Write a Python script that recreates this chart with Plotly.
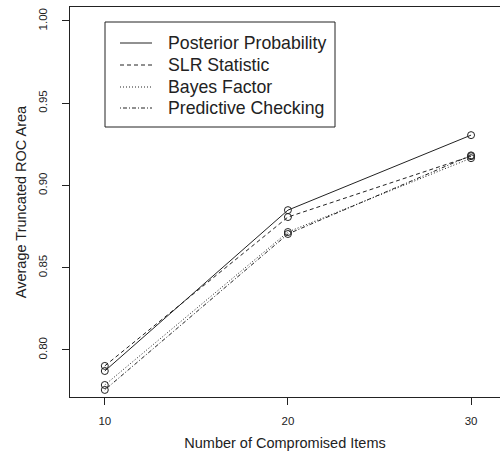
import plotly.graph_objects as go

compromised = [10, 20, 30]
posterior = [0.7872, 0.8850, 0.9306]
slr = [0.7903, 0.8808, 0.9178]
bayes = [0.7787, 0.8717, 0.9166]
predictive = [0.7757, 0.8705, 0.9183]

names = ["Posterior Probability", "SLR Statistic", "Bayes Factor", "Predictive Checking"]
series = [posterior, slr, bayes, predictive]
dashes = ["solid", "4px,3px", "1px,2px", "1px,2px,4px,2px"]

ink = "#222222"
font = "Liberation Sans, Arial, sans-serif"

# plot-area geometry in pixels (for placing the hand-drawn legend box)
L, R, T, B = 70, 500, 7, 397
def px(x):
    return (x - L) / (R - L)
def py(y):
    return (B - y) / (B - T)

fig = go.Figure()
for name, vals, d in zip(names, series, dashes):
    fig.add_trace(go.Scatter(
        x=compromised, y=vals, mode="lines+markers", name=name, showlegend=False,
        line=dict(color=ink, width=1, dash=d),
        marker=dict(symbol="circle-open", size=7, color=ink, line=dict(width=1, color=ink)),
    ))

# legend (R-style box)
shapes = [dict(type="rect", xref="paper", yref="paper",
               x0=px(105), x1=px(335), y0=py(127), y1=py(22),
               line=dict(color=ink, width=1), fillcolor="white", layer="above")]
annotations = []
row_y = [43, 65, 87, 108]
for name, d, ry in zip(names, dashes, row_y):
    shapes.append(dict(type="line", xref="paper", yref="paper",
                       x0=px(120), x1=px(152), y0=py(ry), y1=py(ry),
                       line=dict(color=ink, width=1, dash=d), layer="above"))
    annotations.append(dict(text=name, xref="paper", yref="paper",
                            x=px(166), y=py(ry), xanchor="left", yanchor="middle",
                            showarrow=False, font=dict(size=17.7, family=font, color=ink)))

fig.update_layout(
    width=500, height=451,
    margin=dict(l=L, r=500 - R, t=T, b=451 - B),
    paper_bgcolor="white", plot_bgcolor="white",
    font=dict(family=font, color=ink),
    showlegend=False,
    shapes=shapes, annotations=annotations,
    xaxis=dict(
        range=[8.10, 31.58], tickvals=[10, 20, 30], ticktext=["10", "20", "30"],
        showgrid=False, zeroline=False, showline=True, mirror=True,
        linecolor=ink, linewidth=1, ticks="outside", ticklen=7, tickcolor=ink,
        tickfont=dict(size=11.5, color=ink), ticklabelstandoff=6,
        title=dict(text="Number of Compromised Items", font=dict(size=14.5, color=ink), standoff=14),
    ),
    yaxis=dict(
        range=[0.7714, 1.0085], tickvals=[0.80, 0.85, 0.90, 0.95, 1.00],
        ticktext=["0.80", "0.85", "0.90", "0.95", "1.00"],
        showgrid=False, zeroline=False, showline=True, mirror=False,
        linecolor=ink, linewidth=1, ticks="outside", ticklen=7, tickcolor=ink,
        tickfont=dict(size=11.5, color=ink), tickangle=-90, ticklabelstandoff=10,
        title=dict(text="Average Truncated ROC Area", font=dict(size=14.5, color=ink), standoff=7),
    ),
)
fig.write_html("out.html", config={"displayModeBar": False},
               post_script="document.body.style.margin='0';document.body.style.overflow='hidden';")
